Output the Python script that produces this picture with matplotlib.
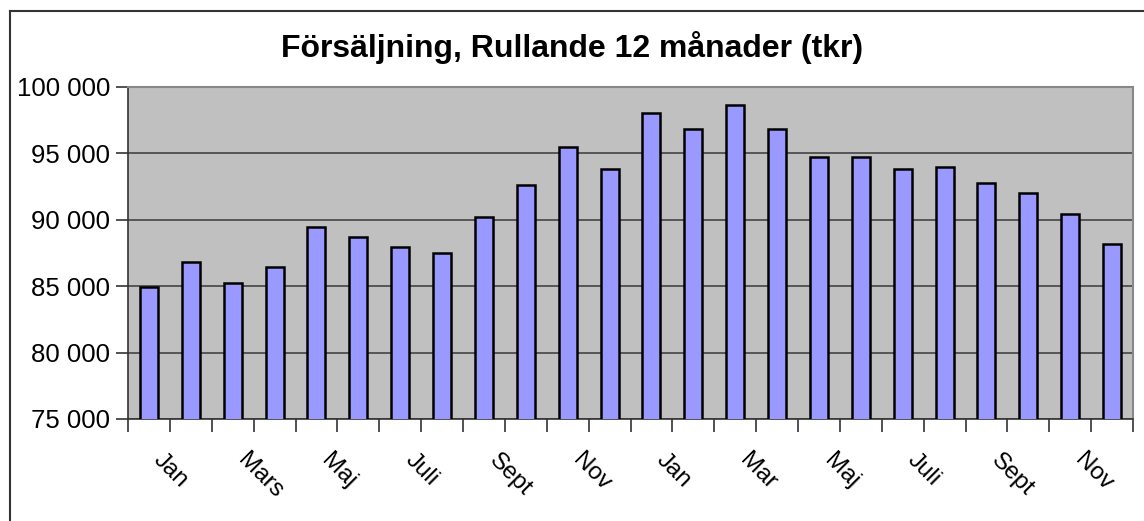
import matplotlib.pyplot as plt
from matplotlib.lines import Line2D
from matplotlib.ticker import FuncFormatter, MultipleLocator

# data (tkr)
months = ["Jan", "Feb", "Mars", "Apr", "Maj", "Jun", "Juli", "Aug", "Sept", "Okt", "Nov", "Dec",
          "Jan", "Feb", "Mar", "Apr", "Maj", "Jun", "Juli", "Aug", "Sept", "Okt", "Nov", "Dec"]
sales = [84960, 86800, 85270, 86470, 89480, 88730, 87980, 87520, 90240, 92620, 95480, 93830,
         98070, 96840, 98670, 96840, 94750, 94750, 93850, 94000, 92800, 92040, 90410, 88150]
title = "Försäljning, Rullande 12 månader (tkr)"

W, H = 1144, 521
plt.rcParams["font.family"] = ["Liberation Sans", "DejaVu Sans"]

fig = plt.figure(figsize=(W / 100, H / 100), dpi=100)
ax = fig.add_axes([128 / W, 1 - 419 / H, (1133 - 128) / W, (419 - 87) / H])
ax.set_facecolor("#C0C0C0")

xs = list(range(len(sales)))
ax.bar(xs, sales, width=0.43, color="#9999FF", edgecolor="black", linewidth=1.8, zorder=3)

ax.set_xlim(-0.5, len(sales) - 0.5)
ax.set_ylim(75000, 100000)
ax.yaxis.set_major_locator(MultipleLocator(5000))
ax.yaxis.set_major_formatter(FuncFormatter(lambda v, p: f"{int(v):,}".replace(",", " ")))
ax.tick_params(axis="y", labelsize=18.5, length=9, width=1.2, color="#333333", pad=4)
ax.grid(True, axis="y", color="#444444", linewidth=1.2, zorder=1)

# ticks between categories, labels on every other month
ax.set_xticks([i - 0.5 for i in range(len(sales) + 1)])
ax.set_xticklabels([])
ax.tick_params(axis="x", length=9, width=1.2, color="#333333")
for i in range(0, len(sales), 2):
    ax.text(i + 0.2, -0.115, months[i], transform=ax.get_xaxis_transform(),
            rotation=-45, rotation_mode="anchor", ha="left", va="center", fontsize=17.5)

for side in ["top", "right"]:
    ax.spines[side].set_color("#888888")
    ax.spines[side].set_linewidth(1.5)
for side in ["left", "bottom"]:
    ax.spines[side].set_color("#333333")
    ax.spines[side].set_linewidth(1.2)

fig.text(572 / W, 1 - 47 / H, title, ha="center", va="center", fontsize=23, fontweight="bold")

# outer chart border (only left and top visible in the crop)
fig.add_artist(Line2D([10 / W, 10 / W], [0, 1 - 11 / H], color="#333333", linewidth=1.5,
                      transform=fig.transFigure))
fig.add_artist(Line2D([10 / W, 1], [1 - 11 / H, 1 - 11 / H], color="#333333", linewidth=1.5,
                      transform=fig.transFigure))

fig.savefig("out.png", dpi=100)
